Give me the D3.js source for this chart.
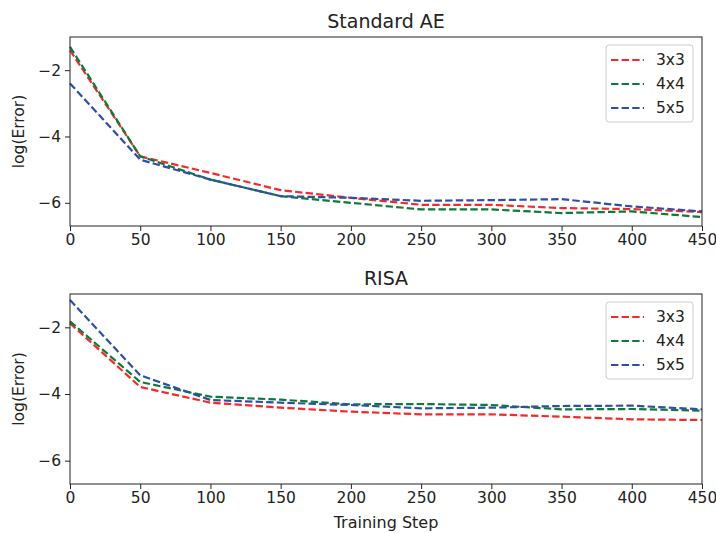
<!DOCTYPE html>
<html>
<head>
<meta charset="utf-8">
<script src="https://cdn.jsdelivr.net/npm/d3@7"></script>
<style>
  body { margin: 0; background: #fff; }
  text { font-family: "DejaVu Sans", sans-serif; fill: #222; }
</style>
</head>
<body>
<svg id="chart" width="716" height="533"></svg>
<script>
var steps = [0, 50, 100, 150, 200, 250, 300, 350, 400, 450]
var seriesNames = ['3x3', '4x4', '5x5']
var colors = ['#f42a2a', '#0d7a3a', '#2f4ea6']

// Standard AE
var ae3 = [-1.4, -4.6, -5.1, -5.62, -5.85, -6.06, -6.06, -6.16, -6.19, -6.28]
var ae4 = [-1.3, -4.6, -5.3, -5.8, -6.0, -6.2, -6.2, -6.31, -6.26, -6.43]
var ae5 = [-2.4, -4.7, -5.3, -5.8, -5.85, -5.94, -5.92, -5.89, -6.11, -6.26]

// RISA
var risa3 = [-1.88, -3.79, -4.26, -4.41, -4.53, -4.61, -4.61, -4.68, -4.76, -4.78]
var risa4 = [-1.82, -3.64, -4.08, -4.17, -4.31, -4.3, -4.33, -4.46, -4.45, -4.5]
var risa5 = [-1.18, -3.44, -4.18, -4.26, -4.33, -4.43, -4.41, -4.36, -4.35, -4.46]

var yTicks = [-2, -4, -6]

var svg = d3.select('#chart')
var left = 70, right = 702
var fs = '15.5px'

var x = d3.scaleLinear().domain([0, 450]).range([left, right])

var panels = [
  { title: 'Standard AE', top: 37, bottom: 226, data: [ae3, ae4, ae5] },
  { title: 'RISA', top: 294, bottom: 484, data: [risa3, risa4, risa5] }
]

panels.forEach(function(p) {
  var y = d3.scaleLinear().domain([-6.7, -1.0]).range([p.bottom, p.top])
  var g = svg.append('g')

  var line = d3.line()
    .x(function(d, i) { return x(steps[i]) })
    .y(function(d) { return y(d) })

  p.data.forEach(function(vals, k) {
    g.append('path')
      .datum(vals)
      .attr('d', line)
      .attr('fill', 'none')
      .attr('stroke', colors[k])
      .attr('stroke-width', 2.2)
      .attr('stroke-dasharray', '7.4,3.2')
  })

  var xAxis = g.append('g')
    .attr('transform', 'translate(0,' + p.bottom + ')')
    .call(d3.axisBottom(x).tickValues(steps).tickSize(5).tickPadding(3).tickFormat(d3.format('d')))
  var yAxis = g.append('g')
    .attr('transform', 'translate(' + left + ',0)')
    .call(d3.axisLeft(y).tickValues(yTicks).tickSize(5).tickPadding(4).tickFormat(function(d) { return '\u2212' + Math.abs(d) }))
  ;[xAxis, yAxis].forEach(function(a) {
    a.select('.domain').remove()
    a.selectAll('line').attr('stroke', '#222')
    a.selectAll('text').style('font-size', fs).style('font-family', '"DejaVu Sans", sans-serif').attr('fill', '#222')
  })

  g.append('rect')
    .attr('x', left).attr('y', p.top)
    .attr('width', right - left).attr('height', p.bottom - p.top)
    .attr('fill', 'none').attr('stroke', '#222').attr('stroke-width', 1)

  g.append('text')
    .attr('x', (left + right) / 2).attr('y', p.top - 9)
    .attr('text-anchor', 'middle')
    .style('font-size', '19px')
    .text(p.title)

  g.append('text')
    .attr('transform', 'translate(24,' + (p.top + p.bottom) / 2 + ') rotate(-90)')
    .attr('text-anchor', 'middle')
    .style('font-size', fs)
    .text('log(Error)')

  // legend
  var lx = 606, ly = p.top + 8
  g.append('rect')
    .attr('x', lx).attr('y', ly).attr('width', 87).attr('height', 77)
    .attr('rx', 3).attr('fill', '#fff').attr('fill-opacity', 0.8)
    .attr('stroke', '#ccc')
  seriesNames.forEach(function(name, k) {
    var yy = ly + 15 + k * 24
    g.append('line')
      .attr('x1', lx + 5).attr('x2', lx + 38)
      .attr('y1', yy).attr('y2', yy)
      .attr('stroke', colors[k]).attr('stroke-width', 2.2)
      .attr('stroke-dasharray', '7.4,3.2')
    g.append('text')
      .attr('x', lx + 50).attr('y', yy + 5)
      .style('font-size', fs)
      .text(name)
  })
})

svg.append('text')
  .attr('x', (left + right) / 2).attr('y', 528)
  .attr('text-anchor', 'middle')
  .style('font-size', '16px')
  .text('Training Step')
</script>
</body>
</html>
